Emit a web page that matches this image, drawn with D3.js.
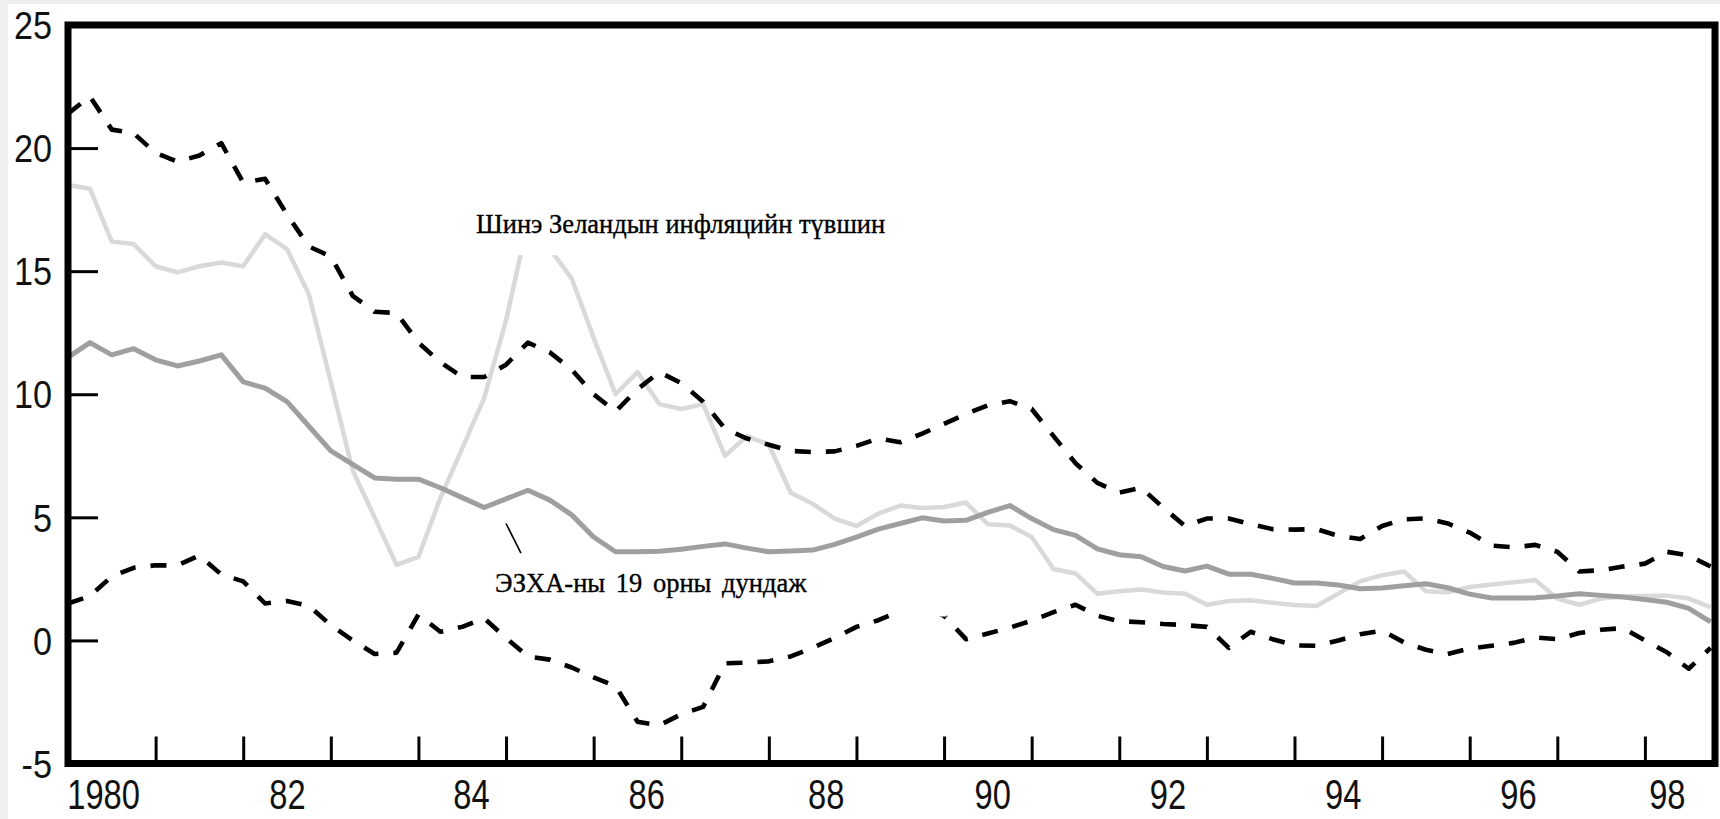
<!DOCTYPE html>
<html>
<head>
<meta charset="utf-8">
<script src="https://cdn.jsdelivr.net/npm/d3@7"></script>
<style>
html, body { margin: 0; padding: 0; background: #ffffff; }
svg { display: block; }
</style>
</head>
<body>
<svg id="chart" width="1720" height="819"></svg>
<script>
// ---------------- DATA (quarterly, 1980Q1 .. 1998Q4) ----------------
const startYear = 1980;
const stepYears = 0.25;

// Upper dashed band
const upperBand = [
  21.4, 22.1, 20.75, 20.6, 19.8, 19.45, 19.7, 20.2, 18.6, 18.75,
  17.3, 16.0, 15.6, 14.0, 13.35, 13.3, 12.1, 11.3, 10.7, 10.7,
  11.2, 12.1, 11.7, 11.0, 10.0, 9.3, 10.2, 10.9, 10.45, 9.7,
  8.6, 8.2, 7.95, 7.7, 7.65, 7.68, 7.9, 8.2, 8.05, 8.4,
  8.8, 9.2, 9.55, 9.72, 9.4, 8.3, 7.2, 6.4, 6.0, 6.2,
  5.4, 4.65, 4.95, 4.95, 4.72, 4.52, 4.5, 4.52, 4.25, 4.12,
  4.65, 4.92, 4.96, 4.75, 4.38, 3.85, 3.78, 3.88, 3.6, 2.8,
  2.85, 3.0, 3.12, 3.6, 3.45, 3.0
];

// Lower dashed band
const lowerBand = [
  1.5, 1.8, 2.6, 2.95, 3.05, 3.05, 3.45, 2.68, 2.4, 1.5,
  1.6, 1.4, 0.62, 0.0, -0.55, -0.5, 1.05, 0.35, 0.55, 0.9,
  0.1, -0.65, -0.78, -1.1, -1.5, -1.85, -3.3, -3.45, -3.0, -2.7,
  -0.93, -0.9, -0.85, -0.65, -0.3, 0.1, 0.55, 0.82, 1.2, 1.4,
  1.0, 0.05, 0.28, 0.52, 0.8, 1.15, 1.45, 1.0, 0.78, 0.74,
  0.67, 0.62, 0.55, -0.3, 0.35, 0.05, -0.2, -0.22, 0.0, 0.25,
  0.4, -0.08, -0.38, -0.55, -0.33, -0.22, -0.1, 0.12, 0.05, 0.3,
  0.43, 0.5, 0.0, -0.48, -1.15, -0.3
];

// New Zealand inflation (light grey)
const nzInflation = [
  18.5, 18.35, 16.2, 16.1, 15.2, 14.95, 15.2, 15.35, 15.2, 16.5,
  15.9, 14.05, 10.5, 6.9, 5.0, 3.07, 3.39, 5.78, 7.8, 9.84,
  13.0, 17.0, 15.9, 14.7, 12.3, 10.0, 10.9, 9.6, 9.4, 9.6,
  7.5, 8.3, 7.95, 6.0, 5.55, 4.95, 4.65, 5.15, 5.48, 5.38,
  5.42, 5.6, 4.72, 4.67, 4.2, 2.9, 2.72, 1.9, 2.0, 2.07,
  1.95, 1.9, 1.45, 1.6, 1.63, 1.53, 1.44, 1.4, 1.9, 2.4,
  2.65, 2.8, 2.0, 1.96, 2.17, 2.27, 2.36, 2.45, 1.7, 1.45,
  1.7, 1.78, 1.8, 1.82, 1.7, 1.35
];

// OECD 19-country average (mid grey)
const oecdAverage = [
  11.5, 12.1, 11.6, 11.85, 11.4, 11.15, 11.35, 11.6, 10.5, 10.25,
  9.7, 8.7, 7.7, 7.15, 6.6, 6.55, 6.55, 6.2, 5.8, 5.4,
  5.75, 6.1, 5.7, 5.1, 4.2, 3.6, 3.6, 3.62, 3.7, 3.82,
  3.92, 3.75, 3.6, 3.63, 3.67, 3.9, 4.2, 4.52, 4.75, 4.98,
  4.85, 4.88, 5.2, 5.48, 4.95, 4.5, 4.27, 3.72, 3.48, 3.4,
  3.0, 2.82, 3.02, 2.69, 2.69, 2.52, 2.33, 2.33, 2.25, 2.1,
  2.13, 2.22, 2.3, 2.14, 1.88, 1.72, 1.72, 1.73, 1.8, 1.9,
  1.83, 1.76, 1.66, 1.55, 1.3, 0.75
];

const yTickValues = [-5, 0, 5, 10, 15, 20, 25];
const xTickYears = [1981, 1982, 1983, 1984, 1985, 1986, 1987, 1988, 1989,
                    1990, 1991, 1992, 1993, 1994, 1995, 1996, 1997, 1998];
const xLabelTexts = ["1980", "82", "84", "86", "88", "90", "92", "94", "96", "98"];
const xLabelPos   = [1980.4, 1982.5, 1984.6, 1986.6, 1988.65, 1990.55, 1992.55, 1994.55, 1996.55, 1998.25];

const labelNZ = "Шинэ Зеландын инфляцийн түвшин";
const labelOECD = "ЭЗХА-ны 19 орны дундаж";

// ---------------- LAYOUT ----------------
const W = 1720, H = 819;
const plot = { left: 68, right: 1715, top: 25, bottom: 763.5 };

const svg = d3.select('#chart');

// page background (light grey edges like the scan)
svg.append('rect').attr('x', 0).attr('y', 0).attr('width', W).attr('height', H).attr('fill', '#efefef');
svg.append('rect').attr('x', 8).attr('y', 4).attr('width', W - 8).attr('height', H - 4).attr('fill', '#ffffff');

const x = d3.scaleLinear().domain([1980, 1998.8]).range([plot.left, plot.right]);
const y = d3.scaleLinear().domain([-5, 25]).range([plot.bottom, plot.top]);

const tOf = i => startYear + i * stepYears;

svg.append('clipPath').attr('id', 'plotClip')
  .append('rect')
  .attr('x', plot.left).attr('y', plot.top)
  .attr('width', plot.right - plot.left).attr('height', plot.bottom - plot.top);

const gLines = svg.append('g').attr('clip-path', 'url(#plotClip)');

const line = d3.line()
  .x((d, i) => x(tOf(i)))
  .y(d => y(d))
  .curve(d3.curveLinear);

// NZ inflation - light grey
gLines.append('path').datum(nzInflation)
  .attr('d', line).attr('fill', 'none')
  .attr('stroke', '#d9d9d9').attr('stroke-width', 4.5)
  .attr('stroke-linejoin', 'round');

// OECD average - medium grey
gLines.append('path').datum(oecdAverage)
  .attr('d', line).attr('fill', 'none')
  .attr('stroke', '#9f9f9f').attr('stroke-width', 5)
  .attr('stroke-linejoin', 'round');

// dashed bands
[upperBand, lowerBand].forEach(arr => {
  gLines.append('path').datum(arr)
    .attr('d', line).attr('fill', 'none')
    .attr('stroke', '#000').attr('stroke-width', 4.6)
    .attr('stroke-dasharray', '16,15')
    .attr('stroke-linejoin', 'round');
});

// white patch hiding part of the lower band (as in the original print)
const patchT = [1989.37, 1990.03], patchV = [0.97, 3.3];
gLines.append('rect')
  .attr('x', x(patchT[0])).attr('y', y(patchV[1]))
  .attr('width', x(patchT[1]) - x(patchT[0]))
  .attr('height', y(patchV[0]) - y(patchV[1]))
  .attr('fill', '#ffffff');

// label box for NZ series (hides the peak like the original)
const nzLabelX = 476, nzLabelBase = 233;
const nzBoxBottom = y(15.65);
gLines.append('rect')
  .attr('x', nzLabelX - 6).attr('y', 195)
  .attr('width', 420).attr('height', nzBoxBottom - 195)
  .attr('fill', '#ffffff');

const serifFont = '"Liberation Serif", "Times New Roman", serif';
svg.append('text')
  .attr('x', nzLabelX).attr('y', nzLabelBase)
  .attr('font-family', serifFont)
  .attr('font-size', 26.5).attr('fill', '#000')
  .attr('stroke', '#000').attr('stroke-width', 0.35)
  .text(labelNZ);

svg.append('text')
  .attr('x', 495).attr('y', 592)
  .attr('font-family', serifFont)
  .attr('font-size', 26.5).attr('fill', '#000')
  .attr('stroke', '#000').attr('stroke-width', 0.35)
  .attr('word-spacing', 4)
  .text(labelOECD);

// leader line from OECD average to its label
svg.append('line')
  .attr('x1', x(1985.0)).attr('y1', y(4.75))
  .attr('x2', x(1985.17)).attr('y2', y(3.55))
  .attr('stroke', '#000').attr('stroke-width', 1.6);

// ---------------- AXES ----------------
const sansFont = '"Liberation Sans", Arial, Helvetica, sans-serif';

// Y axis: inward ticks, labels on left
const yAxis = d3.axisLeft(y).tickValues(yTickValues).tickSize(-30).tickPadding(0)
  .tickFormat(d => String(d));
const gy = svg.append('g').attr('transform', `translate(${plot.left},0)`).call(yAxis);
gy.select('.domain').remove();
gy.selectAll('.tick line').attr('stroke', '#000').attr('stroke-width', 3);
gy.selectAll('.tick text')
  .attr('x', null)
  .attr('transform', 'translate(-16,0) scale(0.9,1)')
  .attr('text-anchor', 'end')
  .attr('dy', '0.36em')
  .attr('font-family', sansFont).attr('font-size', 38).attr('fill', '#111');

// X axis ticks (inward, at year boundaries)
const xAxisTicks = d3.axisBottom(x).tickValues(xTickYears).tickSize(-27).tickFormat('');
const gx = svg.append('g').attr('transform', `translate(0,${plot.bottom})`).call(xAxisTicks);
gx.select('.domain').remove();
gx.selectAll('.tick line').attr('stroke', '#000').attr('stroke-width', 3);

// X axis labels (centered within years)
const xAxisLabels = d3.axisBottom(x).tickValues(xLabelPos).tickSize(0).tickPadding(15)
  .tickFormat((d, i) => xLabelTexts[i]);
const gxl = svg.append('g').attr('transform', `translate(0,${plot.bottom})`).call(xAxisLabels);
gxl.select('.domain').remove();
gxl.selectAll('.tick text')
  .attr('transform', 'scale(0.76,1)')
  .attr('x', 0)
  .attr('font-family', sansFont).attr('font-size', 43).attr('fill', '#111');

// Frame
svg.append('rect')
  .attr('x', plot.left).attr('y', plot.top)
  .attr('width', plot.right - plot.left).attr('height', plot.bottom - plot.top)
  .attr('fill', 'none').attr('stroke', '#000').attr('stroke-width', 7);
</script>
</body>
</html>
